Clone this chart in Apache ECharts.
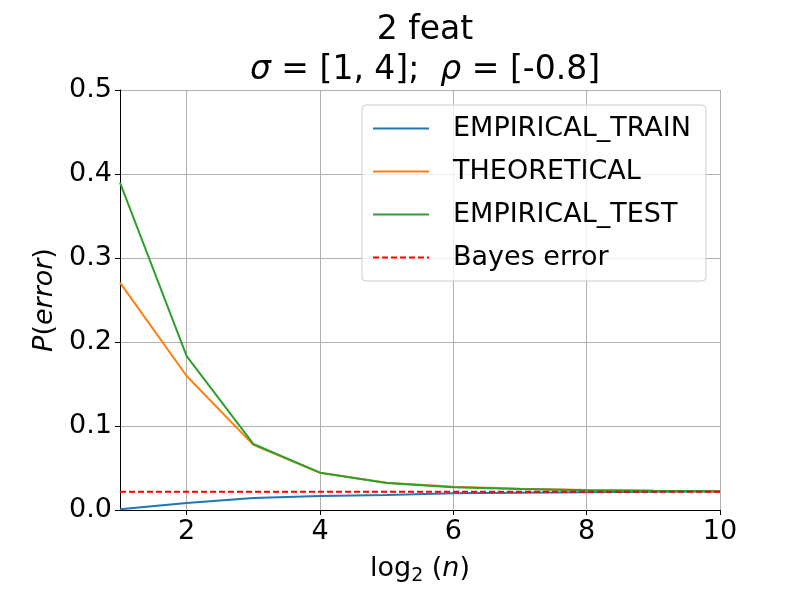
<!DOCTYPE html>
<html>
<head>
<meta charset="utf-8">
<script src="https://cdn.jsdelivr.net/npm/echarts@6/dist/echarts.min.js"></script>
<style>
  html, body { margin: 0; padding: 0; background: #fff; }
  #chart { width: 800px; height: 600px; }
</style>
</head>
<body>
<div id="chart"></div>
<script>
const logN = [1, 2, 3, 4, 5, 6, 7, 8, 9, 10];
const empiricalTrain = [0.001, 0.0083, 0.0143, 0.0167, 0.018, 0.0198, 0.0206, 0.0212, 0.0216, 0.022];
const theoretical = [0.2706, 0.1595, 0.0775, 0.0444, 0.0325, 0.0278, 0.0254, 0.0238, 0.023, 0.0226];
const empiricalTest = [0.3897, 0.1833, 0.0786, 0.0444, 0.0322, 0.0272, 0.025, 0.0234, 0.0228, 0.0224];
const bayesError = 0.0216;
const xTicks = [2, 4, 6, 8, 10];

const FONT = 'DejaVu Sans';
const pairs = (ys) => logN.map((x, i) => [x, ys[i]]);

const chart = echarts.init(document.getElementById('chart'), null, { renderer: 'canvas' });

const lineSeries = (name, data, color, dashed) => ({
  name,
  type: 'line',
  data,
  symbol: 'none',
  showSymbol: false,
  silent: true,
  animation: false,
  lineStyle: { width: 2, color, type: dashed ? [6, 3] : 'solid' },
  itemStyle: { color }
});

chart.setOption({
  backgroundColor: '#ffffff',
  animation: false,
  textStyle: { fontFamily: FONT },
  title: {
    text: '2 feat\n{i|σ} = [1, 4];  {i|ρ} = [-0.8]',
    left: 420,
    top: 5,
    textAlign: 'center',
    textStyle: {
      fontFamily: FONT,
      fontSize: 33,
      fontWeight: 'normal',
      color: '#000',
      lineHeight: 40,
      rich: {
        i: { fontFamily: FONT, fontSize: 33, fontStyle: 'italic', color: '#000', lineHeight: 40 }
      }
    }
  },
  legend: {
    orient: 'vertical',
    right: 94,
    top: 105,
    padding: [10, 15, 10, 10],
    itemWidth: 56,
    itemHeight: 14,
    itemGap: 16,
    itemStyle: { opacity: 0 },
    backgroundColor: 'rgba(255,255,255,0.8)',
    borderColor: '#cccccc',
    borderWidth: 1,
    borderRadius: 4,
    textStyle: {
      fontFamily: FONT,
      fontSize: 27,
      color: '#000',
      lineHeight: 23,
      padding: [0, 0, 0, 19]
    },
    data: ['EMPIRICAL_TRAIN', 'THEORETICAL', 'EMPIRICAL_TEST', 'Bayes error']
  },
  grid: { left: 120, right: 80, top: 90, bottom: 90 },
  xAxis: {
    type: 'value',
    min: 1,
    max: 10,
    name: 'log{sub|2} ({i|n})',
    nameLocation: 'middle',
    nameGap: 42,
    nameTextStyle: {
      fontFamily: FONT,
      fontSize: 27,
      color: '#000',
      lineHeight: 34,
      rich: {
        i: { fontFamily: FONT, fontSize: 27, fontStyle: 'italic', color: '#000', lineHeight: 34 },
        sub: { fontFamily: FONT, fontSize: 19, color: '#000', lineHeight: 16, verticalAlign: 'bottom' }
      }
    },
    axisLine: { show: true, onZero: false, lineStyle: { color: '#000', width: 1 } },
    axisTick: { show: true, customValues: xTicks, length: 5, lineStyle: { color: '#000' } },
    axisLabel: { customValues: xTicks, fontFamily: FONT, fontSize: 27, color: '#000', margin: 8 },
    splitLine: { show: true, lineStyle: { color: '#b0b0b0', width: 1 } }
  },
  yAxis: {
    type: 'value',
    min: 0,
    max: 0.5,
    interval: 0.1,
    name: '{i|P}({i|error})',
    nameLocation: 'middle',
    nameRotate: 90,
    nameGap: 58,
    nameTextStyle: {
      fontFamily: FONT,
      fontSize: 27,
      color: '#000',
      rich: { i: { fontFamily: FONT, fontSize: 27, fontStyle: 'italic', color: '#000' } }
    },
    axisLine: { show: true, lineStyle: { color: '#000', width: 1 } },
    axisTick: { show: true, length: 5, lineStyle: { color: '#000' } },
    axisLabel: {
      fontFamily: FONT,
      fontSize: 27,
      color: '#000',
      margin: 8,
      formatter: (v) => v.toFixed(1)
    },
    splitLine: { show: true, lineStyle: { color: '#b0b0b0', width: 1 } }
  },
  series: [
    lineSeries('EMPIRICAL_TRAIN', pairs(empiricalTrain), '#1f77b4', false),
    lineSeries('THEORETICAL', pairs(theoretical), '#ff7f0e', false),
    lineSeries('EMPIRICAL_TEST', pairs(empiricalTest), '#2ca02c', false),
    lineSeries('Bayes error', logN.map((x) => [x, bayesError]), '#ff0000', true)
  ]
});
</script>
</body>
</html>
